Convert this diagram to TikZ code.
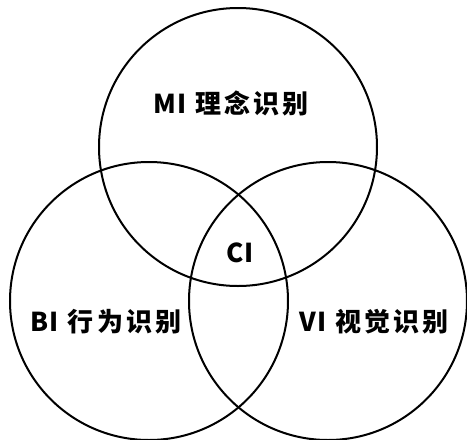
\documentclass[tikz,border=0pt]{standalone}
\usepackage{fontspec}
\newfontfamily\cjk{Noto Sans CJK SC}[LetterSpace=12]
\newfontfamily\latn{Noto Sans CJK SC}[LetterSpace=4]
\begin{document}
\begin{tikzpicture}[x=1pt,y=-1pt,
  ring/.style={draw=black, line width=2pt, circle, minimum size=278pt, inner sep=0pt},
  lbl/.style={font=\cjk\fontsize{26}{26}\selectfont\bfseries, inner sep=0pt, anchor=center}]
\useasboundingbox (0,0) rectangle (467,440);
\node[ring] (mc) at (238,147) {};
\node[ring] (bc) at (149,301) {};
\node[ring] (vc) at (328,301) {};
\node[lbl] (mi) at (231,103) {{\latn\bfseries MI} 理念识别};
\node[lbl] (ci) at (240,253) {{\latn\bfseries CI}};
\node[lbl] (bi) at (106,322) {{\latn\bfseries BI} 行为识别};
\node[lbl] (vi) at (374,322) {{\latn\bfseries VI} 视觉识别};
\end{tikzpicture}
\end{document}
